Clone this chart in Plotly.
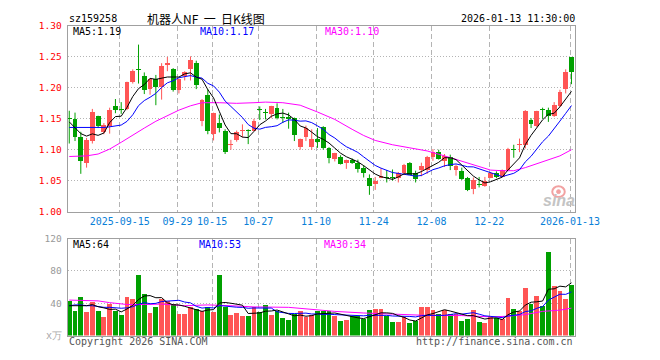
import plotly.graph_objects as go
import pandas as pd

dates = [
    "2025-09-02","2025-09-03","2025-09-04","2025-09-05","2025-09-08","2025-09-09","2025-09-10","2025-09-11",
    "2025-09-12","2025-09-15","2025-09-16","2025-09-17","2025-09-18","2025-09-19","2025-09-22","2025-09-23",
    "2025-09-24","2025-09-25","2025-09-26","2025-09-29","2025-09-30",
    "2025-10-09","2025-10-10","2025-10-13","2025-10-14","2025-10-15","2025-10-16","2025-10-17","2025-10-20",
    "2025-10-21","2025-10-22","2025-10-23","2025-10-24","2025-10-27","2025-10-28","2025-10-29","2025-10-30","2025-10-31",
    "2025-11-03","2025-11-04","2025-11-05","2025-11-06","2025-11-07","2025-11-10","2025-11-11","2025-11-12",
    "2025-11-13","2025-11-14","2025-11-17","2025-11-18","2025-11-19","2025-11-20","2025-11-21","2025-11-24",
    "2025-11-25","2025-11-26","2025-11-27","2025-11-28",
    "2025-12-01","2025-12-02","2025-12-03","2025-12-04","2025-12-05","2025-12-08","2025-12-09","2025-12-10",
    "2025-12-11","2025-12-12","2025-12-15","2025-12-16","2025-12-17","2025-12-18","2025-12-19","2025-12-22",
    "2025-12-23","2025-12-24","2025-12-25","2025-12-26","2025-12-29","2025-12-30","2025-12-31",
    "2026-01-05","2026-01-06","2026-01-07","2026-01-08","2026-01-09","2026-01-12","2026-01-13",
]

opens = [1.151,1.150,1.121,1.079,1.114,1.154,1.129,1.138,1.171,1.165,1.166,1.209,1.230,1.219,1.198,1.215,
         1.201,1.237,1.231,1.197,1.219,1.230,1.240,1.146,1.189,1.126,1.143,1.130,1.108,1.115,1.130,1.132,
         1.131,1.165,1.160,1.157,1.167,1.153,1.153,1.151,1.104,1.121,1.104,1.118,1.137,1.103,1.085,1.088,
         1.078,1.084,1.079,1.071,1.055,1.044,1.055,1.056,1.056,1.054,1.062,1.079,1.062,1.067,1.067,1.089,
         1.096,1.081,1.089,1.067,1.066,1.054,1.037,1.044,1.042,1.055,1.063,1.056,1.067,1.101,1.108,1.108,
         1.148,1.138,1.165,1.164,1.154,1.170,1.198,1.250]
highs = [1.163,1.160,1.129,1.119,1.166,1.155,1.143,1.168,1.182,1.177,1.210,1.230,1.270,1.225,1.216,1.221,
         1.240,1.250,1.232,1.215,1.227,1.251,1.244,1.182,1.198,1.160,1.157,1.133,1.116,1.131,1.141,1.133,
         1.150,1.170,1.166,1.171,1.175,1.166,1.160,1.152,1.118,1.139,1.133,1.135,1.138,1.104,1.095,1.091,
         1.084,1.086,1.084,1.075,1.060,1.056,1.070,1.067,1.068,1.064,1.077,1.080,1.066,1.079,1.090,1.101,
         1.100,1.093,1.092,1.076,1.071,1.056,1.055,1.056,1.056,1.064,1.065,1.068,1.103,1.108,1.118,1.164,
         1.151,1.163,1.168,1.168,1.177,1.197,1.230,1.250]
lows = [1.110,1.114,1.061,1.071,1.110,1.135,1.125,1.126,1.159,1.158,1.164,1.207,1.207,1.190,1.189,1.172,
        1.181,1.227,1.194,1.191,1.212,1.212,1.198,1.138,1.125,1.115,1.128,1.093,1.100,1.113,1.120,1.109,
        1.130,1.148,1.149,1.151,1.149,1.143,1.134,1.114,1.100,1.114,1.100,1.103,1.100,1.078,1.081,1.076,
        1.069,1.077,1.063,1.055,1.027,1.035,1.054,1.047,1.050,1.047,1.059,1.059,1.047,1.057,1.061,1.082,
        1.084,1.072,1.067,1.058,1.051,1.033,1.028,1.039,1.040,1.054,1.054,1.055,1.066,1.087,1.096,1.102,
        1.135,1.136,1.150,1.145,1.153,1.169,1.191,1.206]
closes = [1.150,1.121,1.081,1.115,1.161,1.138,1.140,1.165,1.164,1.164,1.209,1.228,1.229,1.197,1.214,1.201,
          1.236,1.240,1.197,1.214,1.226,1.245,1.205,1.180,1.130,1.159,1.135,1.096,1.110,1.129,1.132,1.131,
          1.146,1.164,1.159,1.170,1.151,1.152,1.149,1.123,1.117,1.135,1.118,1.112,1.102,1.087,1.094,1.077,
          1.083,1.079,1.069,1.063,1.042,1.050,1.058,1.055,1.055,1.062,1.075,1.059,1.053,1.074,1.089,1.097,
          1.085,1.090,1.074,1.074,1.053,1.035,1.051,1.043,1.049,1.063,1.056,1.067,1.101,1.100,1.110,1.163,
          1.142,1.163,1.164,1.154,1.172,1.194,1.226,1.226]
volumes = [43.2,30,48,28.8,42,30,22.8,38.8,30,25.2,48,44.8,75.6,51.6,27.6,34.8,
           45.6,43.2,39.6,26.4,26.4,34.8,32.4,30,34.8,28.8,75.6,36,25.2,27.6,24,24,
           36,28.8,38.4,25.2,30,21.6,19.2,26.4,30,22.8,25.2,30,30,30,24.8,18,
           19.2,24,24,20,31.2,32.8,32.8,24,16.8,16.8,22.8,16,18,35.2,36,31.2,
           26.8,31.2,26.8,26.8,18,20.8,31.2,16.8,15.6,24,22,20.8,46.8,32.4,30,58.8,
           38.8,49.2,37.2,103.2,61.2,55.2,44.8,62.4]

ma5_head = [1.145, 1.136, 1.126, 1.122]
ma10_head = [1.136, 1.136, 1.135, 1.135, 1.135, 1.135, 1.136, 1.137, 1.139]
ma30_idx = [0,3,5,7,9,11,13,15,17,19,21,23,26,29,32,34,37,40,43,46,49,51,53,56,59,62,65,68,71,73,75,77,79,82,85,87]
ma30_val = [1.089,1.090,1.093,1.101,1.112,1.124,1.135,1.146,1.155,1.164,1.171,1.176,1.176,1.175,1.176,1.177,
            1.176,1.172,1.161,1.149,1.133,1.123,1.115,1.108,1.103,1.098,1.090,1.081,1.072,1.067,1.066,1.066,
            1.071,1.080,1.090,1.100]
vol_ma5_head = [37, 37, 37, 37]
vol_ma10_head = [37, 38, 38, 37, 37, 36, 35, 35, 34]
vol_ma30_idx = [0,3,5,7,10,13,16,20,24,28,32,38,41,43,46,51,57,62,68,73,76,79,82,85,87]
vol_ma30_val = [44,43.5,43,40.8,38.5,38.5,39,37,38,37,35.5,35,33,32,30,28,26,25,24.8,23.2,24,26,30,31.5,34]

tick_dates = ["2025-09-15","2025-09-29","2025-10-15","2025-10-27","2025-11-10",
              "2025-11-24","2025-12-08","2025-12-22","2026-01-13"]
tick_labels = ["2025-09-15","09-29","10-15","10-27","11-10","11-24","12-08","12-22","2026-01-13"]
price_ticks = [1.00, 1.05, 1.10, 1.15, 1.20, 1.25, 1.30]
vol_ticks = [40, 80, 120]

RED = "#ff5555"
GREEN = "#00a000"
MONO = "DejaVu Sans Mono"

n = len(dates)
idx = list(range(n))
up = [c >= o for o, c in zip(opens, closes)]
colors = [RED if u else GREEN for u in up]

def rolling(vals, w, head):
    s = pd.Series(vals).rolling(w).mean().tolist()
    return head + s[len(head):]

ma5 = rolling(closes, 5, ma5_head)
ma10 = rolling(closes, 10, ma10_head)
vma5 = rolling(volumes, 5, vol_ma5_head)
vma10 = rolling(volumes, 10, vol_ma10_head)

fig = go.Figure()

# wicks
for col, flag in ((RED, True), (GREEN, False)):
    wx, wy = [], []
    for i in idx:
        if up[i] == flag:
            wx += [i, i, None]
            wy += [lows[i], highs[i], None]
    fig.add_trace(go.Scatter(x=wx, y=wy, mode="lines", line=dict(color=col, width=1),
                             hoverinfo="skip", xaxis="x", yaxis="y"))

# bodies
base = [min(o, c) for o, c in zip(opens, closes)]
height = [max(abs(c - o), 0.0016) for o, c in zip(opens, closes)]
fig.add_trace(go.Bar(x=idx, y=height, base=base, width=0.84, marker=dict(color=colors, line=dict(width=0)),
                     xaxis="x", yaxis="y"))

fig.add_trace(go.Scatter(x=ma30_idx, y=ma30_val, mode="lines", line=dict(color="#ff00ff", width=1),
                         xaxis="x", yaxis="y"))
fig.add_trace(go.Scatter(x=idx, y=ma10, mode="lines", line=dict(color="#0000ff", width=1), xaxis="x", yaxis="y"))
fig.add_trace(go.Scatter(x=idx, y=ma5, mode="lines", line=dict(color="#000000", width=1), xaxis="x", yaxis="y"))

# volume
fig.add_trace(go.Bar(x=idx, y=volumes, width=0.84, marker=dict(color=colors, line=dict(width=0)),
                     xaxis="x2", yaxis="y2"))
fig.add_trace(go.Scatter(x=vol_ma30_idx, y=vol_ma30_val, mode="lines", line=dict(color="#ff00ff", width=1),
                         xaxis="x2", yaxis="y2"))
fig.add_trace(go.Scatter(x=idx, y=vma10, mode="lines", line=dict(color="#0000ff", width=1), xaxis="x2", yaxis="y2"))
fig.add_trace(go.Scatter(x=idx, y=vma5, mode="lines", line=dict(color="#000000", width=1), xaxis="x2", yaxis="y2"))

W, H = 660, 360
L, R = 70.3, 598.0
xdom = [L / W, R / W]
tickpos = [dates.index(d) - 0.25 for d in tick_dates]
xrange = [-0.28, 87.67]
GRID = "#b4b4b4"
FRAME = "#a0a0a0"

common_x = dict(domain=xdom, range=xrange, tickvals=tickpos, showgrid=True, gridcolor=GRID,
                griddash="5px,3px", gridwidth=1, zeroline=False, showline=True, mirror=True,
                linecolor=FRAME, linewidth=1, ticks="", fixedrange=True)

fig.update_layout(
    width=W, height=H, margin=dict(l=0, r=0, t=0, b=0),
    paper_bgcolor="white", plot_bgcolor="white", showlegend=False, bargap=0,
    xaxis=dict(common_x, anchor="y", ticktext=tick_labels,
               tickfont=dict(family=MONO, size=10, color="#0a80d8")),
    xaxis2=dict(common_x, anchor="y2", showticklabels=False),
    yaxis=dict(domain=[1 - 212 / H, 1 - 20.7 / H], range=[1.0, 1.3], tickvals=price_ticks,
               ticktext=["%.2f" % t for t in price_ticks], tickfont=dict(family=MONO, size=9.5, color="#ff0000"),
               showgrid=True, gridcolor=GRID, griddash="1px,2px", zeroline=False, showline=True, mirror=True,
               linecolor=FRAME, linewidth=1, ticks="", ticklabelstandoff=3, anchor="x", fixedrange=True),
    yaxis2=dict(domain=[1 - 340 / H, 1 - 240 / H], range=[0, 120], tickvals=vol_ticks,
                ticktext=[str(t) for t in vol_ticks], tickfont=dict(family=MONO, size=9.5, color="#999999"),
                showgrid=True, gridcolor=GRID, griddash="1px,2px", zeroline=False, showline=True, mirror=True,
                linecolor=FRAME, linewidth=1, ticks="", ticklabelstandoff=3, anchor="x2", fixedrange=True),
)

def px_ann(text, x, y, color="#000000", size=10, family=MONO, xanchor="left", **kw):
    fig.add_annotation(text=text, x=x / W, y=1 - y / H, xref="paper", yref="paper", showarrow=False,
                       xanchor=xanchor, yanchor="middle", font=dict(family=family, size=size, color=color), **kw)

px_ann("sz159258", 70, 13)
px_ann("机器人NF&nbsp;&nbsp;一&nbsp;&nbsp;日K线图", 151, 13, size=12, family="Noto Sans CJK SC")
px_ann("2026-01-13 11:30:00", 600, 13, xanchor="right")
px_ann("MA5:1.19", 74, 26.5)
px_ann("MA10:1.17", 206, 26.5, color="#0000ff")
px_ann("MA30:1.10", 336, 26.5, color="#ff00ff")
px_ann("MA5:64", 74, 246.5)
px_ann("MA10:53", 205, 246.5, color="#0000ff")
px_ann("MA30:34", 335, 246.5, color="#ff00ff")
px_ann("x万", 66, 340, color="#aaaaaa", size=10, xanchor="right")
px_ann("Copyright 2026 SINA.COM", 70, 346, color="#555555")
px_ann("http://finance.sina.com.cn", 598, 346, color="#555555", xanchor="right")

# sina watermark
fig.add_shape(type="circle", xref="paper", yref="paper", x0=574 / W, x1=587 / W, y0=1 - 197 / H, y1=1 - 186 / H,
              line=dict(color="#f2a2a2", width=2), fillcolor="rgba(0,0,0,0)")
fig.add_shape(type="circle", xref="paper", yref="paper", x0=578.5 / W, x1=582.5 / W, y0=1 - 193.5 / H, y1=1 - 189.5 / H,
              line=dict(color="#f2a2a2", width=1), fillcolor="#f2a2a2")
px_ann("<b><i>sina</i></b>", 581, 201, color="#c4c4c4", size=16, family="Liberation Sans", xanchor="center")

fig.write_html("out.html", config={"displayModeBar": False, "staticPlot": True},
               post_script="document.body.style.margin='0';document.body.style.overflow='hidden';")
